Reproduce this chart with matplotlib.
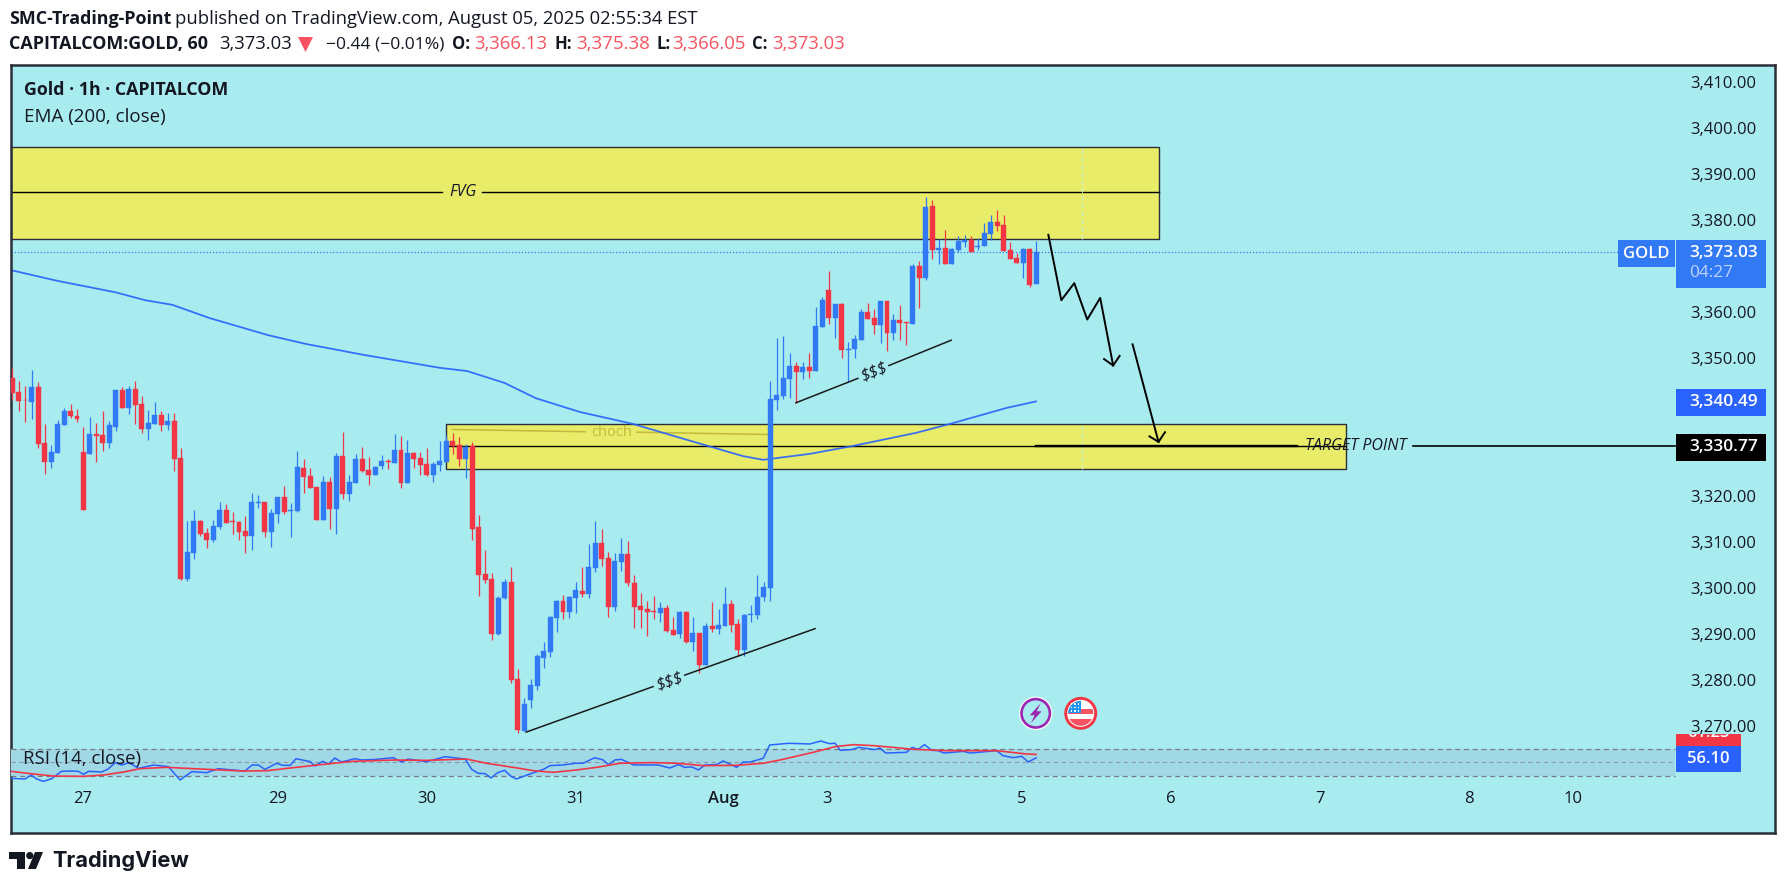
import matplotlib
matplotlib.use("Agg")
import matplotlib.pyplot as plt
from matplotlib.patches import Rectangle, Circle, Polygon
from matplotlib.transforms import Affine2D
import numpy as np

plt.rcParams['font.family'] = ['Open Sans', 'DejaVu Sans']

# ---------- data ----------
opens = [3345.6,3342.5,3340.8,3340.4,3343.6,3331.5,3327.3,3329.3,3335.4,3338.4,
3337.3,3329.5,3329.1,3333.4,3333.2,3331.5,3334.9,3343.0,3339.1,3343.2,
3339.9,3334.5,3335.6,3337.5,3335.4,3336.2,3328.2,3301.9,3307.5,3314.5,
3311.9,3310.4,3313.2,3316.9,3314.5,3314.3,3312.3,3311.2,3318.5,3318.6,
3312.1,3316.0,3319.7,3316.7,3316.7,3326.0,3324.3,3321.9,3314.7,3323.0,
3317.1,3328.6,3320.4,3322.8,3328.0,3325.6,3324.5,3326.5,3327.5,3327.1,
3329.9,3322.8,3329.3,3328.2,3326.9,3324.5,3326.7,3327.3,3331.9,3331.0,
3328.0,3330.7,3313.2,3303.0,3301.9,3289.9,3297.8,3301.2,3280.2,3268.8,
3275.6,3278.6,3284.7,3286.0,3293.4,3297.1,3294.7,3297.8,3299.3,3298.6,
3304.3,3309.7,3306.5,3295.8,3305.6,3307.3,3301.0,3296.0,3295.4,3294.9,
3294.5,3295.6,3290.8,3289.9,3294.7,3288.2,3290.1,3283.2,3291.7,3291.0,
3291.7,3296.5,3292.1,3286.5,3294.1,3294.1,3298.0,3299.9,3340.8,3341.7,
3345.4,3348.2,3346.9,3348.0,3347.1,3356.7,3364.7,3358.6,3361.7,3351.7,
3351.9,3353.9,3359.9,3358.6,3357.1,3362.3,3355.4,3358.2,3357.8,3357.3,
3369.9,3367.3,3383.0,3373.5,3373.9,3370.4,3373.4,3375.2,3375.6,3374.1,
3374.3,3376.9,3379.5,3378.9,3373.4,3371.7,3370.6,3373.6,3366.13]
highs = [3347.7,3344.9,3343.8,3347.3,3344.7,3335.6,3331.0,3336.5,3339.1,3339.9,
3338.8,3334.9,3337.1,3335.8,3338.4,3336.2,3343.0,3343.6,3343.8,3344.9,
3341.7,3338.6,3340.4,3338.4,3338.0,3338.0,3330.4,3314.5,3316.9,3314.7,
3313.0,3314.7,3318.6,3318.2,3316.5,3314.5,3315.6,3320.6,3320.1,3318.6,
3317.1,3319.7,3322.1,3318.4,3329.7,3328.0,3326.0,3321.9,3324.3,3324.1,
3329.3,3333.8,3324.5,3329.1,3330.6,3328.4,3326.5,3328.8,3328.0,3333.4,
3333.0,3332.1,3329.5,3329.5,3330.4,3327.3,3331.9,3333.2,3333.6,3332.8,
3331.2,3331.6,3315.8,3308.2,3303.2,3298.2,3301.9,3304.5,3282.3,3276.0,
3280.2,3285.6,3288.2,3293.8,3297.3,3298.4,3298.2,3301.2,3304.5,3309.5,
3314.5,3312.8,3307.8,3307.5,3310.8,3310.1,3302.8,3298.8,3297.1,3298.2,
3296.9,3296.2,3293.6,3294.9,3294.9,3293.6,3290.1,3292.3,3296.9,3295.4,
3300.2,3297.3,3293.2,3294.3,3296.2,3302.8,3301.2,3344.9,3354.3,3354.7,
3351.0,3349.1,3349.1,3351.0,3361.0,3363.2,3368.9,3361.7,3361.9,3353.4,
3354.9,3360.6,3361.9,3360.6,3362.3,3362.3,3359.5,3361.5,3357.8,3370.4,
3371.0,3384.9,3384.3,3375.8,3377.8,3373.9,3376.5,3376.7,3376.5,3376.0,
3379.3,3381.0,3382.1,3381.0,3375.2,3372.8,3373.9,3373.9,3375.38]
lows = [3340.8,3338.4,3336.1,3336.7,3330.4,3324.7,3326.0,3329.3,3335.4,3336.9,
3336.0,3316.9,3329.1,3327.3,3329.7,3330.4,3334.1,3339.1,3337.8,3335.6,
3333.6,3332.1,3335.6,3334.1,3334.3,3325.4,3301.7,3301.5,3306.2,3311.2,
3308.6,3309.9,3312.8,3314.1,3311.7,3310.4,3307.5,3308.2,3317.3,3311.0,
3308.8,3314.1,3316.0,3311.0,3316.5,3320.6,3321.7,3314.7,3314.7,3312.8,
3311.7,3319.3,3318.8,3322.8,3325.2,3322.3,3324.5,3325.8,3325.8,3327.1,
3321.7,3322.8,3326.0,3324.5,3324.3,3323.0,3325.4,3327.3,3329.1,3326.5,
3323.9,3310.4,3298.2,3301.0,3288.6,3289.7,3297.5,3279.2,3268.4,3268.8,
3273.8,3277.8,3282.5,3284.9,3290.4,3293.2,3293.4,3294.5,3298.0,3297.8,
3303.4,3304.7,3293.6,3294.9,3303.6,3300.4,3291.2,3291.2,3289.5,3293.2,
3292.5,3290.4,3289.7,3289.1,3288.0,3286.2,3281.5,3283.2,3290.4,3289.9,
3291.7,3290.4,3285.2,3285.2,3292.5,3293.2,3297.1,3297.1,3338.6,3341.0,
3341.2,3340.2,3345.4,3345.6,3347.1,3356.7,3357.3,3354.3,3349.9,3344.7,
3349.9,3353.9,3358.4,3355.2,3353.2,3351.5,3353.9,3353.9,3352.8,3357.3,
3360.8,3366.9,3371.5,3370.4,3370.4,3370.4,3373.0,3374.1,3373.0,3373.4,
3374.3,3375.6,3377.5,3373.2,3371.5,3370.6,3367.3,3365.4,3366.05]
closes = [3342.4,3340.6,3340.7,3343.6,3331.3,3327.3,3329.5,3335.6,3338.4,3337.3,
3336.7,3316.9,3333.4,3333.0,3331.5,3335.4,3343.0,3339.1,3343.2,3339.7,
3334.5,3335.8,3337.5,3335.4,3336.2,3328.0,3301.9,3307.8,3314.5,3311.7,
3310.4,3313.4,3316.9,3314.1,3314.3,3312.1,3311.2,3318.6,3318.6,3312.1,
3316.2,3319.7,3316.5,3316.9,3326.2,3324.1,3321.7,3314.7,3323.0,3317.1,
3328.6,3320.4,3323.0,3328.0,3325.4,3324.5,3326.2,3327.5,3327.4,3329.9,
3322.8,3329.3,3328.0,3326.7,3324.5,3326.9,3327.5,3331.9,3330.8,3328.0,
3330.6,3312.8,3302.8,3301.7,3289.9,3297.8,3301.2,3279.9,3269.1,3274.7,
3278.8,3285.2,3286.2,3293.6,3297.1,3294.7,3298.0,3299.5,3298.6,3304.5,
3309.7,3306.2,3295.8,3305.8,3307.3,3301.0,3295.8,3295.2,3294.7,3294.7,
3295.6,3290.6,3289.7,3294.7,3288.2,3290.1,3283.2,3291.7,3291.0,3291.9,
3296.5,3291.9,3286.5,3294.1,3294.3,3298.0,3300.2,3341.0,3341.9,3345.6,
3348.2,3346.9,3348.0,3347.1,3356.9,3362.5,3358.6,3361.7,3351.7,3351.9,
3354.1,3359.9,3358.4,3357.1,3362.3,3355.4,3358.2,3357.5,3357.5,3369.9,
3367.3,3382.8,3373.4,3373.9,3370.4,3373.6,3375.4,3375.6,3373.0,3374.3,
3377.1,3379.5,3378.6,3373.2,3371.5,3370.6,3373.6,3365.8,3373.03]

ema_x = [-0.4,7,16,20.5,24.7,30.5,39.5,45.3,54.3,66,70.2,76,80.8,87.6,95.8,105.7,112.8,115.9,123.1,129.7,139.6,144.7,153.5,158]
ema_v = [3369.1,3366.7,3364.2,3362.5,3361.5,3358.6,3354.9,3353.0,3350.6,3347.8,3347.1,3344.5,3341.2,3338.2,3335.6,3331.5,3328.6,3327.8,3329.1,3330.8,3333.7,3335.6,3339.1,3340.49]

rsi_x = [-0.2,2,2.9,3.8,4.8,6.1,7.6,8.7,10.2,11,11.8,13.8,14.8,15.9,16.9,18,19.5,21.8,24.1,25.9,27.7,30,31.8,35.9,37,38,39,40.8,41.8,42.9,43.8,46,46.7,47.9,48.8,49.8,50.8,52.9,53.9,56.2,58.8,60.1,61.1,64,66.8,69.9,70.9,
71.9,73,73.9,74.9,76,76.9,77.8,79.9,82,83,85,86.9,88.1,89.9,91.2,92,93,94,95.9,99.7,101.5,102.8,103.8,104.9,105.9,106.9,108.7,109.7,111.8,112.8,113.9,115.9,116.9,119.8,123.1,
124.8,126.1,127,127.8,129.5,130.7,133.1,133.9,134.8,138,138.9,139.8,140.8,141.9,142.9,143.8,146.8,147.8,149.1,151.9,152.9,154.5,155.8,156.8,158]
rsi_v = [25.8,24.8,30.7,24.8,21.3,25.3,36.2,36.6,36.2,31.7,36.2,35.2,39.6,49.0,45.5,49.0,40.6,45.5,43.1,23.3,35.7,34.2,40.1,36.6,45.5,45.5,39.1,48.0,45.0,45.0,54.9,50.5,44.1,51.0,47.0,55.9,50.0,54.9,53.0,53.9,56.4,50.0,54.4,50.5,57.9,54.4,39.2,
33.3,32.7,26.3,34.2,37.7,29.3,24.8,32.2,39.2,44.6,45.6,48.1,48.1,56.4,53.0,46.1,53.0,54.0,45.6,45.6,41.1,46.1,42.1,42.6,38.2,45.6,46.1,51.5,42.1,50.0,50.0,55.5,75.2,77.7,76.7,
81.1,77.2,77.7,67.3,68.3,71.7,68.3,70.7,63.3,64.3,71.7,68.8,75.7,67.3,66.8,63.3,65.8,63.3,64.3,66.8,59.4,56.4,58.4,50.0,56.1]
rsima_x = [-0.2,3.3,6.35,11,14.1,17.2,19.7,23.8,29,35.7,39.3,42.9,47,52.6,58.8,64,70.1,73.2,77.3,80.4,83.5,87.1,90.2,93.8,98.9,102.5,106.7,111.8,115.9,118.5,123.6,127,129.8,132.9,136.5,139.1,144.2,151.9,156.5,158]
rsima_v = [36.2,32.2,29.2,28.7,30.7,35.2,40.1,42.1,39.6,36.6,37.1,41.1,45.5,51.0,52.9,52.4,54.4,48.1,42.1,37.2,34.7,38.2,42.1,48.1,49.1,48.1,44.6,45.1,48.1,53.0,64.3,72.7,75.7,74.2,71.2,68.8,66.8,66.8,61.9,61.23]

xtick_pos = [10.9,40.9,64,86.9,109.7,125.8,155.8,178.8,201.8,224.8,240.9]
xtick_lab = ['27','29','30','31','Aug','3','5','6','7','8','10']
# 3,330 / 3,340 / 3,370 sit under the price labels in the reference and do not show
ytick_val = [3270,3280,3290,3300,3310,3320,3350,3360,3380,3390,3400,3410]

fvg_top, fvg_mid, fvg_bot = 3395.8, 3386.0, 3375.9
low_top, low_mid, low_bot = 3335.5, 3330.77, 3325.7
last_close, ema_last = 3373.03, 3340.49

trend1 = ([79.3,98.9],[3268.6,3278.5]); trend1b = ([103.8,123.9],[3281.0,3291.1])
trend2 = ([120.95,130.5],[3340.2,3345.5]); trend2b = ([135.3,144.9],[3348.3,3353.8])
zig_x = [159.9,161.9,163.9,165.9,167.9,169.9]; zig_v = [3376.7,3362.5,3366.2,3358.3,3363.0,3348.3]
zig_hx = [168.5,169.9,170.9]; zig_hv = [3349.7,3348.3,3350.4]
arr_x = [172.9,176.9]; arr_v = [3352.9,3331.7]
arr_hx = [175.5,176.9,177.9]; arr_hv = [3332.9,3331.7,3333.8]

# ---------- colours ----------
BG, YEL, FRAME = '#A9ECF0', '#E8EC69', '#2A2E39'
UP, DOWN = '#3179F5', '#F23645'
TXT = '#131722'

# ---------- layout ----------
W, H = 1785, 888
L, R, T_, B = 10.5, 1775, 64.5, 833
X0, DX = 12.2, 6.48                # pixel of bar 0, pixels per bar
Y3360, PPU = 311.7, 4.6            # pixel of 3360, pixels per price unit
R50, RPU = 762.0, 0.675            # pixel of RSI 50, pixels per RSI unit

fig = plt.figure(figsize=(W/100, H/100), dpi=100, facecolor='white')
pos = [L/W, 1-B/H, (R-L)/W, (B-T_)/H]
ax = fig.add_axes(pos, facecolor=BG)
xlim = ((L-X0)/DX, (R-X0)/DX)
ax.set_xlim(*xlim)
ax.set_ylim(3360-(B-Y3360)/PPU, 3360+(Y3360-T_)/PPU)
for s in ax.spines.values():
    s.set_color(FRAME); s.set_linewidth(1.8)

ax.set_xticks(xtick_pos); ax.set_xticklabels(xtick_lab, fontsize=12, color=TXT)
ax.get_xticklabels()[4].set_fontweight('semibold')
ax.tick_params(axis='x', length=0, pad=-30.5)
ax.yaxis.tick_right()
ax.set_yticks(ytick_val)
ax.set_yticklabels([f'{v:,.2f}' for v in ytick_val], fontsize=12, color=TXT)
ax.tick_params(axis='y', length=0, pad=-60.8)

# zones
right_end = (1675-X0)/DX
ax.add_patch(Rectangle((xlim[0], fvg_bot), 177-xlim[0], fvg_top-fvg_bot, fc=YEL, ec=FRAME, lw=1.0, zorder=1))
ax.add_patch(Rectangle((67.0, low_bot), 205.9-67.0, low_top-low_bot, fc=YEL, ec=FRAME, lw=1.0, zorder=1))
ax.plot([xlim[0], 66.4], [fvg_mid]*2, color='black', lw=1.0, zorder=1.2)
ax.plot([72.5, 177], [fvg_mid]*2, color='black', lw=1.0, zorder=1.2)
ax.text(69.6, fvg_mid, 'FVG', style='italic', fontsize=11.5, color=TXT, ha='center', va='center')
ax.plot([67.0, 205.9], [low_mid]*2, color='black', lw=1.0, zorder=1.2)
for a, b in [(fvg_bot, fvg_top), (low_bot, low_top)]:
    ax.plot([165.1, 165.1], [a, b], color='#C8EFD8', lw=0.8, ls=(0, (4, 3)), zorder=1.3)

# last price dotted line
ax.plot([xlim[0], (1618-X0)/DX], [last_close]*2, color=UP, lw=0.9, ls=(0, (1, 1.6)), zorder=1.4)

# choch
CH = '#C4B93C'
ax.plot([67.9, 88.4], [3334.4, 3333.9], color=CH, lw=1.1, zorder=1.5)
ax.plot([96.4, 116.7], [3333.8, 3333.3], color=CH, lw=1.1, zorder=1.5)
ax.text(92.5, 3333.8, 'choch', color=CH, fontsize=10.5, ha='center', va='center', zorder=1.5)

# EMA
ax.plot(ema_x, ema_v, color='#2962FF', lw=1.3, alpha=0.9, zorder=2.2)

# candles
idx = np.arange(len(opens))
o, h, l, c = map(np.array, (opens, highs, lows, closes))
cols = [UP if ci >= oi else DOWN for oi, ci in zip(o, c)]
ax.vlines(idx, l, h, colors=cols, lw=0.9, zorder=3)
ax.bar(idx, np.abs(c-o), bottom=np.minimum(o, c), width=0.76, color=cols, edgecolor=cols, lw=0.3, zorder=3.1)

# target line
ax.plot([158, 198.3], [low_mid]*2, color='black', lw=1.7, zorder=3.2)
ax.plot([216.2, right_end], [low_mid]*2, color='black', lw=1.2, zorder=3.2)
ax.text(207.4, low_mid, 'TARGET POINT', style='italic', fontsize=11.5, color=TXT, ha='center', va='center', zorder=3.3)

# drawings
for xs, ys in (trend1, trend1b, trend2, trend2b):
    ax.plot(xs, ys, color='#1a1a1a', lw=1.1, zorder=3.4)
ax.text(101.4, 3279.8, '$$$', fontsize=12, rotation=19, ha='center', va='center', color=TXT, style='italic', zorder=3.4)
ax.text(133.0, 3347.0, '$$$', fontsize=12, rotation=22, ha='center', va='center', color=TXT, style='italic', zorder=3.4)
ax.plot(zig_x, zig_v, color='black', lw=1.4, zorder=3.5)
ax.plot(zig_hx, zig_hv, color='black', lw=1.4, zorder=3.5)
ax.plot(arr_x, arr_v, color='black', lw=1.4, zorder=3.5)
ax.plot(arr_hx, arr_hv, color='black', lw=1.4, zorder=3.5)

# RSI overlay
ax2 = fig.add_axes(pos, facecolor='none', frameon=False)
ax2.set_xlim(*xlim)
ax2.set_ylim(50-(B-R50)/RPU, 50+(R50-T_)/RPU)
ax2.set_xticks([]); ax2.set_yticks([])
ax2.fill_between([xlim[0], right_end], 30, 70, color='#A0D8E6', lw=0, zorder=1)
for lv, ls in ((70, (0, (4, 3))), (30, (0, (4, 3)))):
    ax2.plot([xlim[0], right_end], [lv, lv], color='#787B86', lw=0.9, ls=ls, zorder=1.2)
ax2.plot([xlim[0], right_end], [50, 50], color='#8E98A3', lw=0.8, ls=(0, (4, 3)), zorder=1.2)
ax2.plot(rsi_x, rsi_v, color='#2962FF', lw=1.1, zorder=2)
ax2.plot(rsima_x, rsima_v, color=DOWN, lw=1.2, zorder=2.1)

# ---------- pixel-placed furniture ----------
pix = Affine2D().scale(1, -1).translate(0, H)
rend = fig.canvas.get_renderer()

def txt(x, y, s, w=None, size=12, color=TXT, weight='normal', ha='left', va='center', z=10, **kw):
    t = fig.text(x, y, s, transform=pix, fontsize=size, color=color, fontweight=weight, ha=ha, va=va, zorder=z, **kw)
    if w:
        t.set_fontsize(size*w/t.get_window_extent(rend).width)
    return t

def box(x0, y0, x1, y1, color, z=8):
    r = Rectangle((x0, y0), x1-x0, y1-y0, transform=pix, fc=color, ec='none', zorder=z)
    fig.add_artist(r)
    return r

RED_T = '#F7525F'
txt(9, 19, 'SMC-Trading-Point', w=162, weight='bold')
txt(175, 19, 'published on TradingView.com, August 05, 2025 02:55:34 EST', w=522)
txt(9, 44, 'CAPITALCOM:GOLD, 60', w=200, weight='bold')
txt(219, 44, '3,373.03', w=73)
fig.add_artist(Polygon([(298, 37), (313, 37), (305.5, 52)], transform=pix, fc=RED_T, ec='none', zorder=10))
txt(326, 44, '\u22120.44 (\u22120.01%)', w=119)
for lab, lx, val, v0, v1 in (('O:', 452, '3,366.13', 474, 547), ('H:', 555, '3,375.38', 576, 650),
                             ('L:', 656, '3,366.05', 672, 746), ('C:', 752, '3,373.03', 772, 845)):
    txt(lx, 44, lab, size=12, weight='bold')
    txt(v0, 44, val, w=v1-v0, color=RED_T)

txt(24, 90, 'Gold \u00b7 1h \u00b7 CAPITALCOM', w=205, weight='bold')
txt(24, 117, 'EMA (200, close)', w=141)
txt(23, 759, 'RSI (14, close)', w=117)

# price labels
box(1618, 240, 1675, 267, UP)
txt(1646, 253.5, 'GOLD', color='white', size=12, ha='center', weight='semibold')
box(1676, 240, 1766, 288, UP)
txt(1689, 253, '3,373.03', w=69, color='white', weight='semibold')
txt(1689, 273, '04:27', w=44, color='#BFD4FB')
box(1676, 389, 1766, 416, '#2962FF')
txt(1689, 402, '3,340.49', w=69, color='white', weight='semibold')
box(1676, 434, 1766, 461, 'black')
txt(1689, 447, '3,330.77', w=69, color='white', weight='semibold')
red_box = box(1676, 734, 1741, 746, DOWN)
rt = txt(1708.5, 733, '61.23', color='white', size=12, ha='center', weight='semibold')
rt.set_clip_path(Rectangle((1676, 734), 65, 12, transform=pix))
box(1676, 746, 1741, 772, '#2962FF', z=9)
txt(1708.5, 759, '56.10', color='white', size=12, ha='center', weight='semibold')

# event icons
cx, cy = 1035.7, 713.3
fig.add_artist(Circle((cx, cy), 16.7, transform=pix, fc='white', ec='none', zorder=8))
fig.add_artist(Circle((cx, cy), 14.2, transform=pix, fc=BG, ec='#9C27B0', lw=1.9, zorder=8.1))
fig.add_artist(Polygon([(cx+5, cy-10), (cx-6, cy+2), (cx-1, cy+2), (cx-5, cy+10), (cx+6, cy-2), (cx+1, cy-2)],
                       transform=pix, fc='#9C27B0', ec='none', zorder=8.2))
cx, cy = 1080.7, 713.3
fig.add_artist(Circle((cx, cy), 15, transform=pix, fc='white', ec=DOWN, lw=2.1, zorder=8))
clip = Circle((cx, cy), 12.5, transform=pix)
for y0, hh, colr in ((-4, 5, '#F7525F'), (6, 7, '#F7525F')):
    r = Rectangle((cx-13, cy+y0), 26, hh, transform=pix, fc=colr, ec='none', zorder=8.1)
    fig.add_artist(r); r.set_clip_path(clip)
r = Rectangle((cx-13, cy-13), 13, 13, transform=pix, fc='#2196F3', ec='none', zorder=8.2)
fig.add_artist(r); r.set_clip_path(clip)
for dx_ in (-10, -6.5, -3):
    for dy_ in (-10, -6.5, -3):
        fig.add_artist(Rectangle((cx+dx_, cy+dy_), 1.6, 1.6, transform=pix, fc='white', ec='none', zorder=8.3))

# TradingView logo
DK = '#131722'
fig.add_artist(Polygon([(9, 852), (25, 852), (25, 869), (17, 869), (17, 859), (9, 859)], transform=pix, fc=DK, ec='none', zorder=10))
fig.add_artist(Circle((29.8, 855.6), 3.6, transform=pix, fc=DK, ec='none', zorder=10))
fig.add_artist(Polygon([(35, 852), (43, 852), (36, 869), (28, 869)], transform=pix, fc=DK, ec='none', zorder=10))
txt(52, 860.5, 'TradingView', w=136, weight='bold', color=DK, family=['Inter', 'Open Sans', 'DejaVu Sans'])

fig.savefig('out.png', dpi=100, facecolor='white')
